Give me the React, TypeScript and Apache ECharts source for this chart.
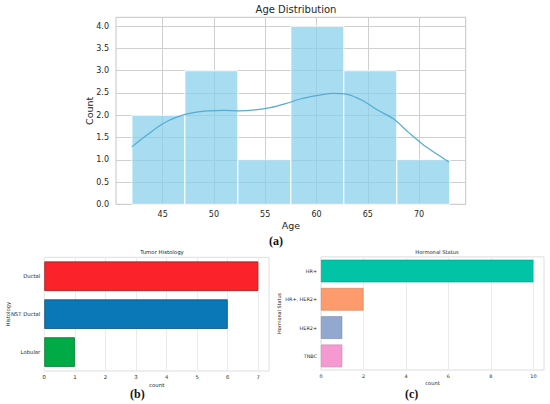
import React, { useEffect, useRef } from "react";
import * as echarts from "echarts";

// ---- Age histogram (a)
const binStart = 42;
const binEnd = 73;
const ageCounts = [2, 3, 1, 4, 3, 1];
const ageTicks = [45, 50, 55, 60, 65, 70];
const countTicks = [0, 0.5, 1, 1.5, 2, 2.5, 3, 3.5, 4];
const kdeAges = [42, 43.5, 45, 46.5, 48, 49.5, 51, 52.5, 54, 55.5, 57, 58.5, 60, 61.5, 63, 64.5, 66, 67.5, 69, 70.5, 72, 72.9];
const kdeValues = [1.29, 1.56, 1.81, 1.97, 2.06, 2.1, 2.11, 2.1, 2.12, 2.17, 2.26, 2.37, 2.44, 2.49, 2.47, 2.33, 2.11, 1.92, 1.61, 1.32, 1.09, 0.95];

// ---- Tumor histology (b)
const histCategories = ["Ductal", "NST Ductal", "Lobular"];
const histValues = [7, 6, 1];
const histColors = ["#fb2329", "#0a77b6", "#00aa45"];
const histBorders = ["#a01a1e", "#07507a", "#007a30"];
const histTicks = [0, 1, 2, 3, 4, 5, 6, 7];

// ---- Hormonal status (c)
const hormCategories = ["HR+", "HR+, HER2+", "HER2+", "TNBC"];
const hormValues = [10, 2, 1, 1];
const hormColors = ["#00c4a5", "#fd9b6c", "#93a8cf", "#f59ad0"];
const hormBorders = ["#00a088", "#d57f55", "#7587aa", "#cc7dae"];
const hormTicks = [0, 2, 4, 6, 8, 10];

const FONT = "DejaVu Sans";
const TXT = "#262626";
const SMALL_B = 5.3;
const SMALL_C = 4.9;

export default function App() {
  const ref = useRef<HTMLDivElement>(null);

  useEffect(() => {
    if (!ref.current) return;
    const chart = echarts.init(ref.current, null, { renderer: "svg" });

    const binW = (binEnd - binStart) / ageCounts.length;
    const histData = ageCounts.map((c, i) => [binStart + i * binW, binStart + (i + 1) * binW, c]);
    const kdeData = kdeAges.map((a, i) => [a, kdeValues[i]]);
    const span = binEnd - binStart;

    const labelB = { fontFamily: FONT, fontSize: SMALL_B, color: TXT };
    const labelC = { fontFamily: FONT, fontSize: SMALL_C, color: TXT };

    const option: any = {
      animation: false,
      textStyle: { fontFamily: FONT },
      title: [
        { text: "Age Distribution", left: 291, top: -1, textAlign: "center",
          textStyle: { fontFamily: FONT, fontSize: 10, fontWeight: "normal", color: TXT } },
        { text: "Tumor Histology", left: 157, top: 244.5, textAlign: "center",
          textStyle: { fontFamily: FONT, fontSize: 5.4, fontWeight: "normal", color: TXT } },
        { text: "Hormonal Status", left: 432, top: 244.5, textAlign: "center",
          textStyle: { fontFamily: FONT, fontSize: 5.2, fontWeight: "normal", color: TXT } },
      ],
      graphic: [
        { type: "text", left: 269, top: 235, style: { text: "(a)", font: "bold 12px 'Liberation Serif'", fill: "#111" } },
        { type: "text", left: 130, top: 388, style: { text: "(b)", font: "bold 12px 'Liberation Serif'", fill: "#111" } },
        { type: "text", left: 405, top: 388, style: { text: "(c)", font: "bold 12px 'Liberation Serif'", fill: "#111" } },
      ],
      grid: [
        { left: 116, top: 17.3, right: 84.3, bottom: 199.7, show: true, borderColor: "#c4c4c4", borderWidth: 1, containLabel: false },
        { left: 44.3, top: 257.3, right: 281, bottom: 33, show: true, borderColor: "#dedede", borderWidth: 1, containLabel: false },
        { left: 321, top: 256.9, right: 6, bottom: 34, show: true, borderColor: "#dedede", borderWidth: 1, containLabel: false },
      ],
      xAxis: [
        {
          gridIndex: 0, type: "value",
          min: binStart - 0.05 * span, max: binEnd + 0.05 * span,
          name: "Age", nameLocation: "middle", nameGap: 16, nameMoveOverlap: false,
          nameTextStyle: { fontFamily: FONT, fontSize: 9.5, color: TXT },
          axisLine: { show: false }, axisTick: { show: false, customValues: ageTicks },
          axisLabel: { customValues: ageTicks, fontFamily: FONT, fontSize: 8, color: TXT, margin: 6 },
          splitLine: { show: true, lineStyle: { color: "#cfcfcf", width: 1 } },
        },
        {
          gridIndex: 1, type: "value", min: 0, max: 7.35,
          name: "count", nameLocation: "middle", nameGap: 11.5, nameMoveOverlap: false,
          nameTextStyle: { fontFamily: FONT, fontSize: 5.4, color: TXT },
          axisLine: { show: false }, axisTick: { show: false, customValues: histTicks },
          axisLabel: { customValues: histTicks, ...labelB, margin: 3.5 },
          splitLine: { show: true, lineStyle: { color: "#ebebeb", width: 1 } },
        },
        {
          gridIndex: 2, type: "value", min: 0, max: 10.5,
          name: "count", nameLocation: "middle", nameGap: 10, nameMoveOverlap: false,
          nameTextStyle: { fontFamily: FONT, fontSize: 5.2, color: TXT },
          axisLine: { show: false }, axisTick: { show: false, customValues: hormTicks },
          axisLabel: { customValues: hormTicks, ...labelC, margin: 3.5 },
          splitLine: { show: true, lineStyle: { color: "#ebebeb", width: 1 } },
        },
      ],
      yAxis: [
        {
          gridIndex: 0, type: "value", min: 0, max: 4.2,
          name: "Count", nameLocation: "middle", nameGap: 22, nameRotate: 90, nameMoveOverlap: false,
          nameTextStyle: { fontFamily: FONT, fontSize: 9.5, color: TXT },
          axisLine: { show: false }, axisTick: { show: false, customValues: countTicks },
          axisLabel: { customValues: countTicks, fontFamily: FONT, fontSize: 8, color: TXT, margin: 7,
            formatter: (v: number) => v.toFixed(1) },
          splitLine: { show: true, lineStyle: { color: "#cfcfcf", width: 1 } },
        },
        {
          gridIndex: 1, type: "category", data: histCategories, inverse: true,
          name: "Histology", nameLocation: "middle", nameGap: 34, nameRotate: 90, nameMoveOverlap: false,
          nameTextStyle: { fontFamily: FONT, fontSize: SMALL_B, color: TXT },
          axisLine: { show: false }, axisTick: { show: false },
          axisLabel: { ...labelB, margin: 4 },
          splitLine: { show: false },
        },
        {
          gridIndex: 2, type: "category", data: hormCategories, inverse: true,
          name: "Hormonal Status", nameLocation: "middle", nameGap: 39.5, nameRotate: 90, nameMoveOverlap: false,
          nameTextStyle: { fontFamily: FONT, fontSize: SMALL_C, color: TXT },
          axisLine: { show: false }, axisTick: { show: false },
          axisLabel: { ...labelC, margin: 4 },
          splitLine: { show: false },
        },
      ],
      series: [
        {
          type: "custom", xAxisIndex: 0, yAxisIndex: 0,
          data: histData,
          encode: { x: [0, 1], y: 2 },
          renderItem: (params: any, api: any) => {
            const p0 = api.coord([api.value(0), api.value(2)]);
            const p1 = api.coord([api.value(1), 0]);
            return {
              type: "rect",
              shape: { x: p0[0], y: p0[1], width: p1[0] - p0[0], height: p1[1] - p0[1] },
              style: { fill: "rgba(135,206,235,0.72)", stroke: "#ffffff", lineWidth: 1 },
            };
          },
        },
        {
          type: "line", xAxisIndex: 0, yAxisIndex: 0,
          data: kdeData, smooth: 0.3, symbol: "none",
          lineStyle: { color: "#55acd0", width: 1.2 },
        },
        {
          type: "bar", xAxisIndex: 1, yAxisIndex: 1, barCategoryGap: "22%",
          data: histValues.map((v, i) => ({
            value: v,
            itemStyle: { color: histColors[i], borderColor: histBorders[i], borderWidth: 0.8 },
          })),
        },
        {
          type: "bar", xAxisIndex: 2, yAxisIndex: 2, barCategoryGap: "20%",
          data: hormValues.map((v, i) => ({
            value: v,
            itemStyle: { color: hormColors[i], borderColor: hormBorders[i], borderWidth: 0.6 },
          })),
        },
      ],
    };

    chart.setOption(option);
    return () => chart.dispose();
  }, []);

  return (
    <div
      ref={ref}
      style={{ position: "absolute", left: 0, top: 0, width: 550, height: 404, background: "#fff" }}
    />
  );
}
